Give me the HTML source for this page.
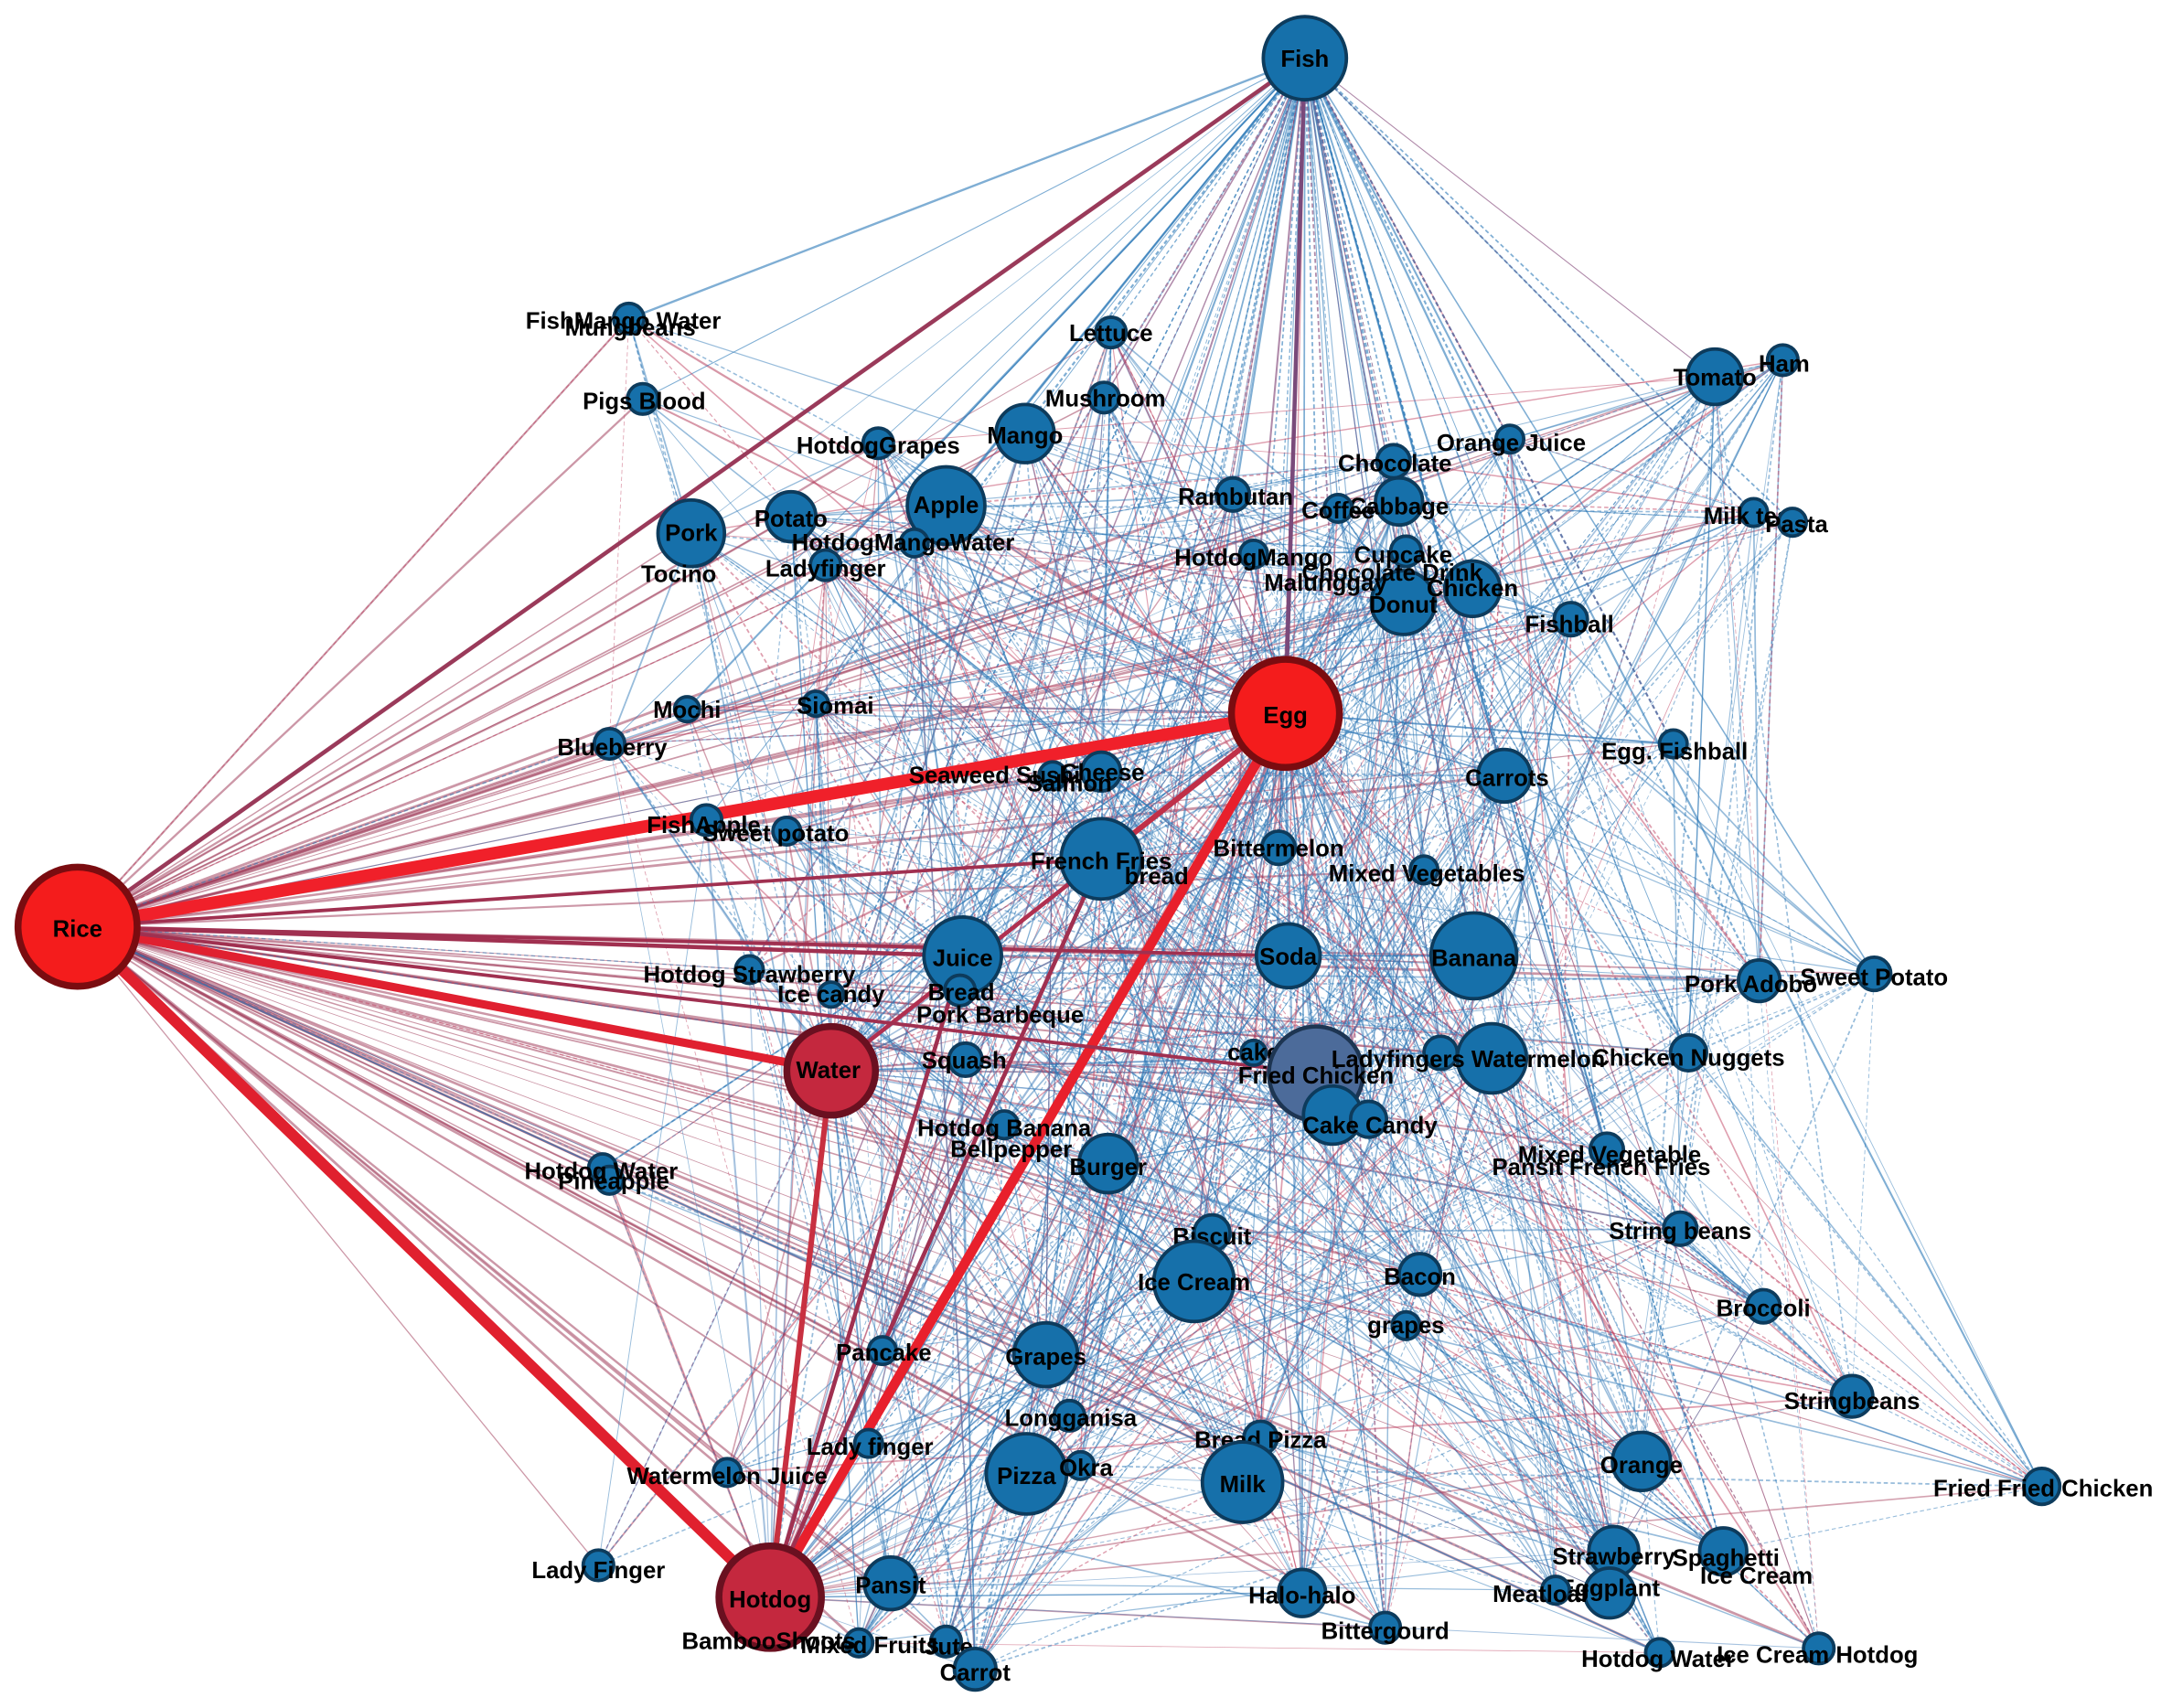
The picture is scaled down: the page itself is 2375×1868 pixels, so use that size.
<!DOCTYPE html>
<html><head><meta charset="utf-8">
<style>
html,body{margin:0;padding:0;background:#fff;}
svg{display:block;}
.n{fill:#1670aa;stroke:#0d3b5c;stroke-width:2.5;}
text{font-family:"Liberation Sans",Arial,sans-serif;font-weight:bold;font-size:17px;fill:#000;text-anchor:middle;dominant-baseline:central;}
</style></head>
<body>
<svg id="s" width="2375" height="1868" viewBox="0 0 1568 1233" preserveAspectRatio="none" xmlns="http://www.w3.org/2000/svg">
<g id="edges"></g>
<g id="heavy" stroke-linecap="round">
<line x1="56" y1="669" x2="928" y2="515" stroke="#f0202a" stroke-width="9"/>
<line x1="56" y1="669" x2="600" y2="773" stroke="#e02030" stroke-width="6"/>
<line x1="56" y1="669" x2="556" y2="1153" stroke="#e0202e" stroke-width="8"/>
<line x1="928" y1="515" x2="556" y2="1153" stroke="#e8202c" stroke-width="7"/>
<line x1="600" y1="773" x2="556" y2="1153" stroke="#c83040" stroke-width="4"/>
<line x1="928" y1="515" x2="600" y2="773" stroke="#b03050" stroke-width="3"/>
<line x1="56" y1="669" x2="942" y2="42" stroke="#9a3a5a" stroke-width="3"/>
<line x1="56" y1="669" x2="695" y2="690" stroke="#a03050" stroke-width="3"/>
<line x1="56" y1="669" x2="930" y2="690" stroke="#a03050" stroke-width="2.5"/>
<line x1="56" y1="669" x2="795" y2="620" stroke="#a03050" stroke-width="2.5"/>
<line x1="56" y1="669" x2="950" y2="775" stroke="#a03050" stroke-width="2.5"/>
<line x1="928" y1="515" x2="795" y2="620" stroke="#c03048" stroke-width="4"/>
<line x1="928" y1="515" x2="942" y2="42" stroke="#7a4a7a" stroke-width="3"/>
<line x1="556" y1="1153" x2="695" y2="690" stroke="#a03050" stroke-width="3"/>
<line x1="556" y1="1153" x2="795" y2="620" stroke="#a03050" stroke-width="3"/>
</g>
<g id="nodes">
<circle class="n" cx="454" cy="230" r="11"/><text x="450" y="232">FishMango Water</text>
<text x="455" y="237">Mungbeans</text>
<circle class="n" cx="464" cy="288" r="11"/><text x="465" y="290">Pigs Blood</text>
<circle class="n" cx="802" cy="240" r="11"/><text x="802" y="241">Lettuce</text>
<circle class="n" cx="797" cy="287" r="11"/><text x="798" y="288">Mushroom</text>
<circle class="n" cx="634" cy="320" r="11"/><text x="634" y="322">HotdogGrapes</text>
<circle class="n" cx="740" cy="313" r="21"/><text x="740" y="315">Mango</text>
<circle class="n" cx="1090" cy="317" r="10"/><text x="1091" y="320">Orange Juice</text>
<circle class="n" cx="1238" cy="272" r="20"/><text x="1238" y="273">Tomato</text>
<circle class="n" cx="1287" cy="260" r="11"/><text x="1288" y="263">Ham</text>
<circle class="n" cx="683" cy="365" r="28"/><text x="683" y="365">Apple</text>
<circle class="n" cx="499" cy="385" r="24"/><text x="499" y="385">Pork</text>
<circle class="n" cx="571" cy="373" r="18"/><text x="571" y="375">Potato</text>
<circle class="n" cx="660" cy="392" r="10"/><text x="652" y="392">HotdogMangoWater</text>
<circle class="n" cx="596" cy="408" r="11"/><text x="596" y="411">Ladyfinger</text>
<text x="490" y="415">Tocino</text>
<circle class="n" cx="890" cy="357" r="12"/><text x="892" y="359">Rambutan</text>
<circle class="n" cx="1006" cy="333" r="12"/><text x="1007" y="335">Chocolate</text>
<circle class="n" cx="1010" cy="362" r="17"/><text x="1010" y="366">Cabbage</text>
<circle class="n" cx="966" cy="367" r="10"/><text x="966" y="369">Coffee</text>
<circle class="n" cx="1266" cy="370" r="10"/><text x="1261" y="373">Milk tea</text>
<circle class="n" cx="1294" cy="377" r="10"/><text x="1297" y="379">Pasta</text>
<circle class="n" cx="905" cy="400" r="10"/><text x="905" y="403">HotdogMango</text>
<circle class="n" cx="1013" cy="435" r="23"/>
<circle class="n" cx="1015" cy="398" r="11"/><text x="1013" y="401">Cupcake</text>
<circle class="n" cx="1063" cy="425" r="20"/><text x="1063" y="425">Chicken</text>
<text x="1005" y="414">Chocolate Drink</text>
<text x="957" y="421">Malunggay</text>
<text x="1013" y="437">Donut</text>
<circle class="n" cx="1134" cy="447" r="12"/><text x="1133" y="451">Fishball</text>
<circle class="n" cx="496" cy="512" r="9"/><text x="496" y="513">Mochi</text>
<circle class="n" cx="589" cy="508" r="9"/><text x="603" y="510">Siomai</text>
<circle class="n" cx="440" cy="537" r="11"/><text x="442" y="540">Blueberry</text>
<circle class="n" cx="1208" cy="537" r="10"/><text x="1209" y="543">Egg. Fishball</text>
<circle class="n" cx="795" cy="557" r="14"/><circle class="n" cx="760" cy="560" r="10"/>
<text x="718" y="560">Seaweed Sushi</text><text x="796" y="558">Cheese</text><text x="772" y="566">Salmon</text>
<circle class="n" cx="1086" cy="560" r="19"/><text x="1088" y="562">Carrots</text>
<circle class="n" cx="510" cy="592" r="11"/><text x="508" y="596">FishApple</text>
<circle class="n" cx="568" cy="600" r="10"/><text x="560" y="602">Sweet potato</text>
<circle class="n" cx="795" cy="620" r="29"/><text x="795" y="622">French Fries</text>
<text x="835" y="633">bread</text>
<circle class="n" cx="923" cy="612" r="12"/><text x="923" y="613">Bittermelon</text>
<circle class="n" cx="1028" cy="628" r="10"/><text x="1030" y="631">Mixed Vegetables</text>
<circle class="n" cx="541" cy="700" r="10"/><text x="541" y="704">Hotdog Strawberry</text>
<circle class="n" cx="600" cy="718" r="9"/><text x="600" y="718">Ice candy</text>
<circle class="n" cx="695" cy="690" r="28"/><text x="695" y="692">Juice</text>
<circle class="n" cx="693" cy="715" r="11"/><text x="694" y="717">Bread</text>
<text x="722" y="733">Pork Barbeque</text>
<circle class="n" cx="697" cy="765" r="12"/><text x="696" y="766">Squash</text>
<circle class="n" cx="930" cy="690" r="23"/><text x="930" y="691">Soda</text>
<circle class="n" cx="1064" cy="690" r="31"/><text x="1064" y="692">Banana</text>
<circle class="n" cx="1270" cy="708" r="15"/><text x="1264" y="711">Pork Adobo</text>
<circle class="n" cx="1353" cy="703" r="12"/><text x="1353" y="706">Sweet Potato</text>
<circle class="n" cx="905" cy="760" r="9"/><text x="905" y="760">cake</text>
<circle cx="950" cy="775" r="34" fill="#4c6b9a" stroke="#1d3552" stroke-width="3"/>
<circle class="n" cx="962" cy="805" r="21"/>
<circle class="n" cx="988" cy="808" r="13"/>
<text x="950" y="777">Fried Chicken</text><text x="989" y="813">Cake Candy</text>
<circle class="n" cx="1040" cy="760" r="12"/>
<circle class="n" cx="1077" cy="764" r="25"/><text x="1060" y="765">Ladyfingers Watermelon</text>
<circle class="n" cx="1219" cy="760" r="13"/><text x="1219" y="764">Chicken Nuggets</text>
<circle class="n" cx="725" cy="812" r="10"/><text x="725" y="815">Hotdog Banana</text>
<text x="730" y="830">Bellpepper</text>
<circle class="n" cx="800" cy="840" r="21"/><text x="800" y="843">Burger</text>
<circle class="n" cx="435" cy="843" r="10"/><circle class="n" cx="440" cy="852" r="10"/>
<text x="434" y="846">Hotdog Water</text><text x="443" y="853">Pineapple</text>
<circle class="n" cx="1160" cy="830" r="12"/><text x="1162" y="834">Mixed Vegetable</text>
<text x="1156" y="843">Pansit French Fries</text>
<circle class="n" cx="1213" cy="887" r="12"/><text x="1213" y="889">String beans</text>
<circle class="n" cx="875" cy="890" r="13"/><text x="875" y="893">Biscuit</text>
<circle class="n" cx="862" cy="925" r="29"/><text x="862" y="926">Ice Cream</text>
<circle class="n" cx="1025" cy="920" r="15"/><text x="1025" y="922">Bacon</text>
<circle class="n" cx="1015" cy="957" r="10"/><text x="1015" y="957">grapes</text>
<circle class="n" cx="1273" cy="943" r="12"/><text x="1273" y="945">Broccoli</text>
<circle class="n" cx="637" cy="975" r="10"/><text x="638" y="977">Pancake</text>
<circle class="n" cx="755" cy="978" r="23"/><text x="755" y="980">Grapes</text>
<circle class="n" cx="1337" cy="1008" r="15"/><text x="1337" y="1012">Stringbeans</text>
<circle class="n" cx="772" cy="1022" r="11"/><text x="773" y="1024">Longganisa</text>
<circle class="n" cx="627" cy="1042" r="10"/><text x="628" y="1045">Lady finger</text>
<circle class="n" cx="910" cy="1038" r="12"/><text x="910" y="1040">Bread Pizza</text>
<circle class="n" cx="897" cy="1070" r="29"/><text x="897" y="1072">Milk</text>
<circle class="n" cx="741" cy="1064" r="29"/><text x="741" y="1066">Pizza</text>
<circle class="n" cx="780" cy="1058" r="10"/><text x="784" y="1060">Okra</text>
<circle class="n" cx="1185" cy="1055" r="21"/><text x="1185" y="1058">Orange</text>
<circle class="n" cx="1474" cy="1073" r="13"/><text x="1475" y="1075">Fried Fried Chicken</text>
<circle class="n" cx="525" cy="1063" r="10"/><text x="525" y="1066">Watermelon Juice</text>
<circle class="n" cx="432" cy="1130" r="11"/><text x="432" y="1134">Lady Finger</text>
<circle cx="556" cy="1153" r="37" fill="#c4283e" stroke="#6a1020" stroke-width="5"/><text x="556" y="1155">Hotdog</text>
<circle class="n" cx="643" cy="1143" r="19"/><text x="643" y="1145">Pansit</text>
<circle class="n" cx="940" cy="1150" r="17"/><text x="940" y="1152">Halo-halo</text>
<circle class="n" cx="1000" cy="1175" r="11"/><text x="1000" y="1178">Bittergourd</text>
<circle class="n" cx="1165" cy="1120" r="18"/><circle class="n" cx="1162" cy="1150" r="18"/>
<text x="1165" y="1124">Strawberry</text><text x="1162" y="1147">Eggplant</text>
<circle class="n" cx="1123" cy="1148" r="10"/><text x="1112" y="1151">Meatloaf</text>
<circle class="n" cx="1244" cy="1120" r="17"/><text x="1246" y="1125">Spaghetti</text><text x="1268" y="1138">Ice Cream</text>
<circle class="n" cx="1198" cy="1193" r="10"/><text x="1197" y="1198">Hotdog Water</text>
<circle class="n" cx="1313" cy="1190" r="11"/><text x="1312" y="1195">Ice Cream  Hotdog</text>
<circle class="n" cx="620" cy="1186" r="10"/><circle class="n" cx="683" cy="1185" r="11"/>
<text x="555" y="1185">BambooShoots</text><text x="628" y="1188">Mixed Fruits</text><text x="685" y="1189">Jute</text>
<circle class="n" cx="704" cy="1205" r="15"/><text x="704" y="1208">Carrot</text>
<circle class="n" cx="942" cy="42" r="30"/><text x="942" y="43">Fish</text>
<circle cx="928" cy="515" r="39" fill="#f41c1c" stroke="#7a0c10" stroke-width="5"/><text x="928" y="517">Egg</text>
<circle cx="600" cy="773" r="32" fill="#c4283e" stroke="#6a1020" stroke-width="5"/><text x="598" y="773">Water</text>
<circle cx="56" cy="669" r="43" fill="#f41c1c" stroke="#7a0c10" stroke-width="5"/><text x="56" y="671">Rice</text>
</g>
</svg>
<script>
(function(){
var s=12345;function r(){s=(s*1103515245+12345)%2147483648;return s/2147483648;}
var cs=document.querySelectorAll('#nodes circle'),N=[];
for(var i=0;i<cs.length;i++)N.push([+cs[i].getAttribute('cx'),+cs[i].getAttribute('cy'),+cs[i].getAttribute('r')]);
var g=document.getElementById('edges'),h='';
function L(a,b,c,w,o,d){h+='<line x1="'+a[0]+'" y1="'+a[1]+'" x2="'+b[0]+'" y2="'+b[1]+'" stroke="'+c+'" stroke-width="'+w+'" stroke-opacity="'+o+'"'+(d?' stroke-dasharray="3 2"':'')+'/>';}
var rice=[56,669],fish=[942,42],egg=[928,515],water=[600,773],hot=[556,1153];
N.forEach(function(n){
 if(n[0]==56)return;
 L(rice,n,'#9a3050',0.5+r()*1.4,0.5);
 if(r()<0.7)L(fish,n,r()<0.85?'#2a78b8':'#7a3a70',0.5+r()*1.1,0.6,r()<0.5);
 if(r()<0.75)L(egg,n,r()<0.4?'#b03050':'#3a78b8',0.5+r()*1.1,0.5);
 if(r()<0.5)L(water,n,r()<0.5?'#a03050':'#3a78b8',0.5+r()*0.9,0.45);
 if(r()<0.45)L(hot,n,r()<0.5?'#a03050':'#3a78b8',0.5+r()*0.9,0.45);
});
for(var k=0;k<1300;k++){
 var a=N[Math.floor(r()*N.length)],b=N[Math.floor(r()*N.length)];
 if(a===b)continue;
 var big=Math.max(a[2],b[2]);
 if(big<15&&r()<0.6)continue;
 if((a[0]<560||b[0]<560)&&r()<0.6)continue;
 if((a[1]>1000&&b[1]>1000)&&r()<0.5)continue;
 L(a,b,r()<0.82?'#2f7ab8':'#c04060',0.5+r()*0.7,0.5,r()<0.4);
}
g.innerHTML=h;
})();
</script>
</body></html>
